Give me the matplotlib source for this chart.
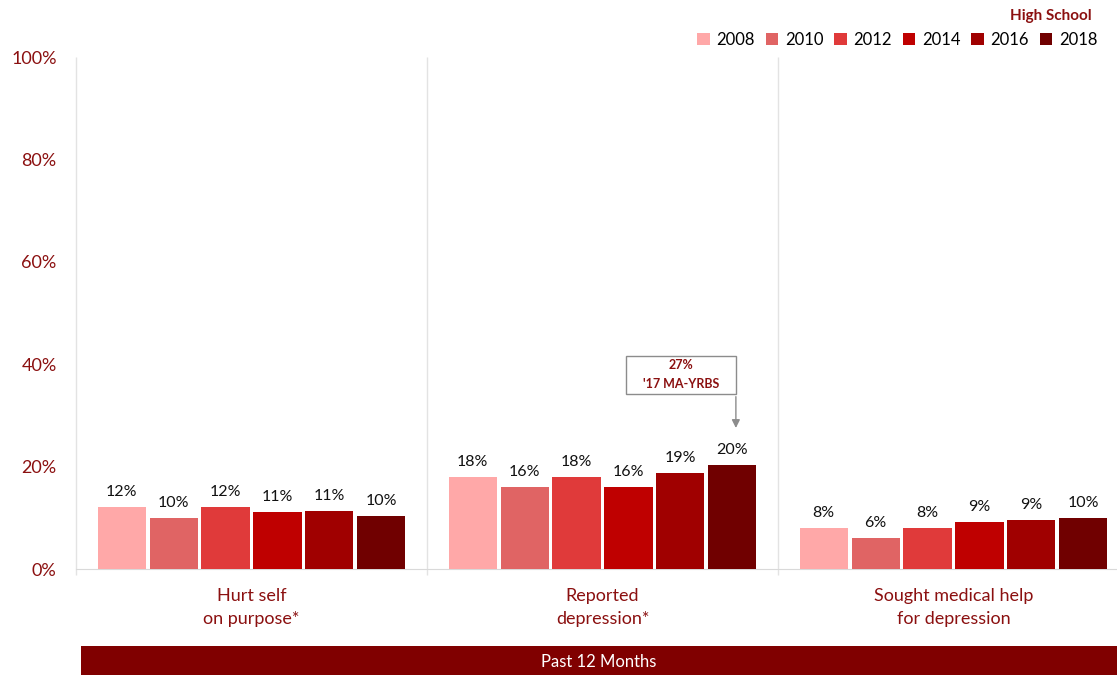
import numpy as np
import matplotlib.pyplot as plt
from matplotlib.patches import Rectangle

plt.rcParams['font.family'] = ['Lato', 'DejaVu Sans']

# Datos
categorias = ['Hurt self\non purpose*', 'Reported\ndepression*', 'Sought medical help\nfor depression']
anios = ['2008', '2010', '2012', '2014', '2016', '2018']
valores = {
    '2008': [12.1, 18.0, 8.0],
    '2010': [10.0, 16.0, 6.0],
    '2012': [12.1, 18.0, 8.0],
    '2014': [11.1, 16.0, 9.1],
    '2016': [11.3, 18.7, 9.5],
    '2018': [10.3, 20.3, 9.9],
}
etiquetas = {
    '2008': ['12%', '18%', '8%'],
    '2010': ['10%', '16%', '6%'],
    '2012': ['12%', '18%', '8%'],
    '2014': ['11%', '16%', '9%'],
    '2016': ['11%', '19%', '9%'],
    '2018': ['10%', '20%', '10%'],
}
colores = ['#FFA8A8', '#E06464', '#E03A3A', '#BF0000', '#A00000', '#700000']
rojo = '#8B1010'
ref_valor = 27  # '17 MA-YRBS

fig = plt.figure(figsize=(11.17, 6.75), dpi=100)
ax = fig.add_axes([76/1117, 106/675, 1053/1117, 512/675])

x = np.arange(len(categorias))
ancho = 0.137
paso = 0.148
for i, a in enumerate(anios):
    pos = x + (i - 2.5)*paso
    ax.bar(pos, valores[a], width=ancho, color=colores[i], label=a, zorder=3)
    for p, v, t in zip(pos, valores[a], etiquetas[a]):
        ax.text(p, v + 1.6, t, ha='center', va='bottom', fontsize=11.5, color='#111111')

ax.set_xlim(-0.5, 2.5)
ax.set_ylim(0, 100)
ax.set_yticks(np.arange(0, 101, 20))
ax.set_yticklabels([f'{v}%' for v in range(0, 101, 20)], fontsize=13, color=rojo)
ax.tick_params(axis='y', length=0, pad=14)
ax.set_xticks([])
for s in ['top', 'right', 'left']:
    ax.spines[s].set_visible(False)
ax.spines['bottom'].set_color('#D9D9D9')

# separadores
ax.vlines([-0.5, 0.5, 1.5], -1.2, 100, color='#E3E3E3', lw=1, clip_on=False)

for xi, c in zip(x, categorias):
    ax.text(xi, -7.5, c, ha='center', va='center', fontsize=13, color=rojo,
            linespacing=1.55, clip_on=False)

# anotacion de referencia
ax.add_patch(Rectangle((1.067, 34.2), 0.313, 7.4, fill=False, ec='#8C8C8C', lw=1, zorder=4))
ax.text(1.2235, 37.9, "27%\n'17 MA-YRBS", ha='center', va='center', fontsize=9,
        fontweight='bold', color=rojo, linespacing=1.7)
ax.annotate('', xy=(1.38, ref_valor), xytext=(1.38, 34.2),
            arrowprops=dict(arrowstyle='-|>', color='#8C8C8C', lw=1, mutation_scale=12))

# leyenda
fig.legend(loc='upper right', bbox_to_anchor=(1104/1117, 1 - 25/675), ncol=6, frameon=False,
           fontsize=12, handlelength=0.75, handleheight=0.75, handletextpad=0.4,
           columnspacing=0.65, borderaxespad=0)
fig.text(1092/1117, 1 - 16/675, 'High School', ha='right', va='center', fontsize=11,
         fontweight='bold', color=rojo)

# banda inferior
fig.add_artist(Rectangle((81/1117, 0), 1, 29/675, transform=fig.transFigure,
                         color='#800000', lw=0))
fig.text(599/1117, 13/675, 'Past 12 Months', ha='center', va='center', fontsize=12, color='white')

plt.savefig('out.png', dpi=100)
